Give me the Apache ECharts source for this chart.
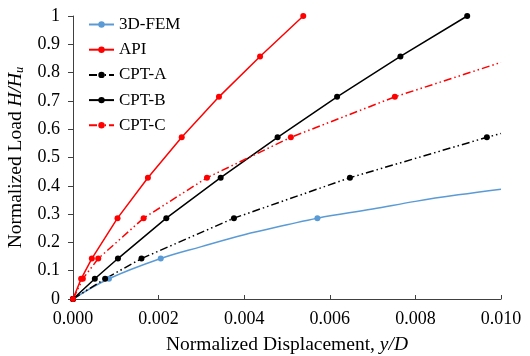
<!DOCTYPE html>
<html>
<head>
<meta charset="utf-8">
<script src="https://cdn.jsdelivr.net/npm/echarts@6/dist/echarts.min.js"></script>
<style>html,body{margin:0;padding:0;background:#fff}#c{width:530px;height:356px}</style>
</head>
<body>
<div id="c"></div>
<script>
// Data
var seriesNames = ['3D-FEM', 'API', 'CPT-A', 'CPT-B', 'CPT-C'];
var xTicks = ['0.000', '0.002', '0.004', '0.006', '0.008', '0.010'];
var yTicks = ['0', '0.1', '0.2', '0.3', '0.4', '0.5', '0.6', '0.7', '0.8', '0.9', '1'];

var femX = [0, 0.00084, 0.00205, 0.0030, 0.0040, 0.0050, 0.00571, 0.0070, 0.0080, 0.0090, 0.0100];
var femY = [0, 0.0714, 0.1429, 0.185, 0.227, 0.262, 0.2857, 0.318, 0.345, 0.368, 0.388];
var femMark = [1, 1, 1, 0, 0, 0, 1, 0, 0, 0, 0];

var apiX = [0, 0.00019, 0.00044, 0.00104, 0.00175, 0.00254, 0.00341, 0.00437, 0.00538];
var apiY = [0, 0.0714, 0.1429, 0.2857, 0.4286, 0.5714, 0.7143, 0.8571, 1.0];

var cptAX = [0, 0.00075, 0.0016, 0.00376, 0.00647, 0.00967, 0.0100];
var cptAY = [0, 0.0714, 0.1429, 0.2857, 0.4286, 0.5714, 0.585];
var cptAMark = [1, 1, 1, 1, 1, 1, 0];

var cptBX = [0, 0.00051, 0.00105, 0.00218, 0.00345, 0.00478, 0.00617, 0.00765, 0.00921];
var cptBY = [0, 0.0714, 0.1429, 0.2857, 0.4286, 0.5714, 0.7143, 0.8571, 1.0];

var cptCX = [0, 0.00023, 0.00059, 0.00165, 0.00313, 0.00509, 0.00752, 0.0100];
var cptCY = [0, 0.0714, 0.1429, 0.2857, 0.4286, 0.5714, 0.7143, 0.836];
var cptCMark = [1, 1, 1, 1, 1, 1, 1, 0];

function build(xs, ys, marks) {
  return xs.map(function (x, i) {
    var d = { value: [x, ys[i]] };
    if (marks && !marks[i]) d.symbol = 'none';
    return d;
  });
}

var FONT = '"Liberation Serif", "Times New Roman", serif';
var dashDotDot = [8, 3, 1.5, 3, 1.5, 3];
var AXIS = '#404040';

var chart = echarts.init(document.getElementById('c'), null, { renderer: 'canvas' });
chart.setOption({
  animation: false,
  backgroundColor: '#ffffff',
  textStyle: { fontFamily: FONT },
  grid: { left: 73, right: 29, top: 16, bottom: 57, containLabel: false, outerBoundsMode: 'none' },
  legend: {
    orient: 'vertical',
    left: 88,
    top: 16,
    padding: 0,
    itemWidth: 25,
    itemHeight: 8,
    itemGap: 8.2,
    data: seriesNames,
    textStyle: { fontFamily: FONT, fontSize: 17, color: '#000' }
  },
  xAxis: {
    type: 'value',
    min: 0, max: 0.01, interval: 0.002,
    name: 'Normalized Displacement, {i|y/D}',
    nameLocation: 'middle',
    nameGap: 36,
    nameTextStyle: {
      fontFamily: FONT, fontSize: 19.5, color: '#000',
      rich: { i: { fontFamily: FONT, fontSize: 19.5, fontStyle: 'italic', color: '#000' } }
    },
    axisLine: { lineStyle: { color: AXIS, width: 1 } },
    axisTick: { show: true, inside: true, length: 4, lineStyle: { color: AXIS } },
    axisLabel: {
      fontFamily: FONT, fontSize: 18, color: '#000', margin: 11,
      formatter: function (v) { return xTicks[Math.round(v / 0.002)]; }
    },
    splitLine: { show: false }
  },
  yAxis: {
    type: 'value',
    min: 0, max: 1, interval: 0.1,
    name: 'Normalized Load {i|H}{i|/H}{sub|u}',
    nameLocation: 'middle',
    nameGap: 35,
    nameRotate: 90,
    nameTextStyle: {
      fontFamily: FONT, fontSize: 19.5, color: '#000', lineHeight: 22,
      rich: {
        i: { fontFamily: FONT, fontSize: 19.5, fontStyle: 'italic', color: '#000', lineHeight: 22 },
        sub: { fontFamily: FONT, fontSize: 12.5, fontStyle: 'italic', color: '#000', lineHeight: 9, verticalAlign: 'bottom' }
      }
    },
    axisLine: { show: true, lineStyle: { color: AXIS, width: 1 } },
    axisTick: { show: true, inside: false, length: 5, lineStyle: { color: AXIS } },
    axisLabel: {
      fontFamily: FONT, fontSize: 18, color: '#000', margin: 13,
      formatter: function (v) { return yTicks[Math.round(v * 10)]; }
    },
    splitLine: { show: false }
  },
  series: [
    {
      name: seriesNames[0], type: 'line', smooth: 0.4,
      data: build(femX, femY, femMark),
      symbol: 'circle', symbolSize: 6, showAllSymbol: true,
      lineStyle: { color: '#5B9BD5', width: 1.5 },
      itemStyle: { color: '#5B9BD5' }
    },
    {
      name: seriesNames[1], type: 'line',
      data: build(apiX, apiY),
      symbol: 'circle', symbolSize: 6, showAllSymbol: true,
      lineStyle: { color: '#FF0000', width: 1.5 },
      itemStyle: { color: '#FF0000' }
    },
    {
      name: seriesNames[2], type: 'line',
      data: build(cptAX, cptAY, cptAMark),
      symbol: 'circle', symbolSize: 6, showAllSymbol: true,
      lineStyle: { color: '#000000', width: 1.5, type: dashDotDot },
      itemStyle: { color: '#000000' }
    },
    {
      name: seriesNames[3], type: 'line',
      data: build(cptBX, cptBY),
      symbol: 'circle', symbolSize: 6, showAllSymbol: true,
      lineStyle: { color: '#000000', width: 1.5 },
      itemStyle: { color: '#000000' }
    },
    {
      name: seriesNames[4], type: 'line',
      data: build(cptCX, cptCY, cptCMark),
      symbol: 'circle', symbolSize: 6, showAllSymbol: true,
      lineStyle: { color: '#FF0000', width: 1.5, type: dashDotDot },
      itemStyle: { color: '#FF0000' }
    }
  ]
});
</script>
</body>
</html>
